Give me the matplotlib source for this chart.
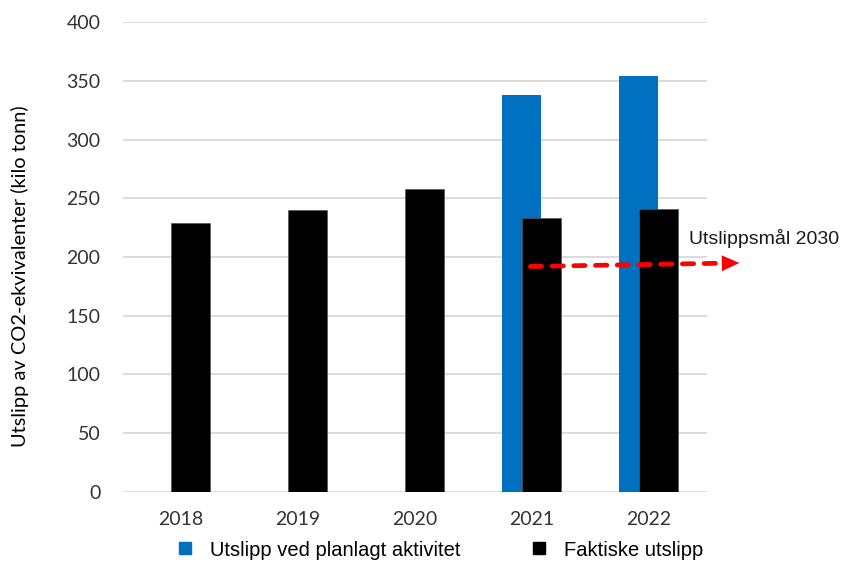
import numpy as np
from matplotlib import pyplot as plt
from matplotlib.lines import Line2D

# data
years = ['2018', '2019', '2020', '2021', '2022']
planned = [np.nan, np.nan, np.nan, 338, 354]   # Utslipp ved planlagt aktivitet
actual = [229, 240, 258, 233, 241]             # Faktiske utslipp
goal_x = [2.97, 4.78]                          # category index, start / arrow tip
goal_y = [192, 195]
goal_label = 'Utslippsmål 2030'

tick_font = 'Lato'
text_font = 'Liberation Sans'
blue = '#0070C0'

fig = plt.figure(figsize=(8.65, 5.62), dpi=100)
ax = fig.add_axes([0.1418, 0.1251, 0.8170 - 0.1418, 0.9601 - 0.1251])

x = np.arange(len(years))
width = 0.334
offset = 0.0835

ax.bar(x - offset, planned, width, color=blue, zorder=2)
ax.bar(x + offset, actual, width, color='black', edgecolor='#555555',
       linewidth=0.5, zorder=3)

# dashed target line + arrow head
head_len = 0.15
slope = (goal_y[1] - goal_y[0]) / (goal_x[1] - goal_x[0])
base_x = goal_x[1] - head_len
base_y = goal_y[0] + slope * (base_x - goal_x[0])
ax.plot([goal_x[0] + 0.02, base_x], [goal_y[0], base_y], color='red', lw=3.4,
        ls=(0, (2.4, 2.2)), dash_capstyle='round', zorder=4, clip_on=False)
ax.annotate('', xy=(goal_x[1], goal_y[1]), xytext=(base_x, base_y),
            arrowprops=dict(arrowstyle='-|>,head_length=12.7,head_width=5.7',
                            mutation_scale=1, color='red', lw=0,
                            shrinkA=0, shrinkB=0),
            annotation_clip=False, zorder=5)
ax.text(4.348, 216, goal_label, fontsize=14, family=text_font,
        va='center', ha='left', color='#1a1a1a')

ax.set_xlim(-0.5, 4.5)
ax.set_ylim(0, 400)
ax.set_yticks(np.arange(0, 401, 50))
ax.set_xticks(x)
ax.set_xticklabels(years)
for lab in ax.get_xticklabels() + ax.get_yticklabels():
    lab.set_family(tick_font)
    lab.set_fontsize(14)
    lab.set_color('#333333')
ax.tick_params(axis='both', length=0)
ax.tick_params(axis='y', pad=16)
ax.tick_params(axis='x', pad=14)

ax.grid(axis='y', color='#D9D9D9', lw=1.3, zorder=0)
ax.set_axisbelow(True)
for s in ax.spines.values():
    s.set_visible(False)

ax.set_ylabel('Utslipp av CO2-ekvivalenter (kilo tonn)', fontsize=14.4,
              family=tick_font, color='black')
ax.yaxis.set_label_coords(-0.16, 0.46)

handles = [Line2D([], [], marker='s', ls='none', color=blue, markersize=8.8),
           Line2D([], [], marker='s', ls='none', color='black', markersize=8.5)]
fig.legend(handles, ['Utslipp ved planlagt aktivitet', 'Faktiske utslipp'],
           loc='center left', bbox_to_anchor=(179 / 865, 1 - 550 / 562),
           ncol=2, frameon=False, borderpad=0, borderaxespad=0,
           handlelength=0.6, handletextpad=0.95, columnspacing=3.6,
           prop={'family': text_font, 'size': 14.5})

fig.savefig('out.png', dpi=100)
